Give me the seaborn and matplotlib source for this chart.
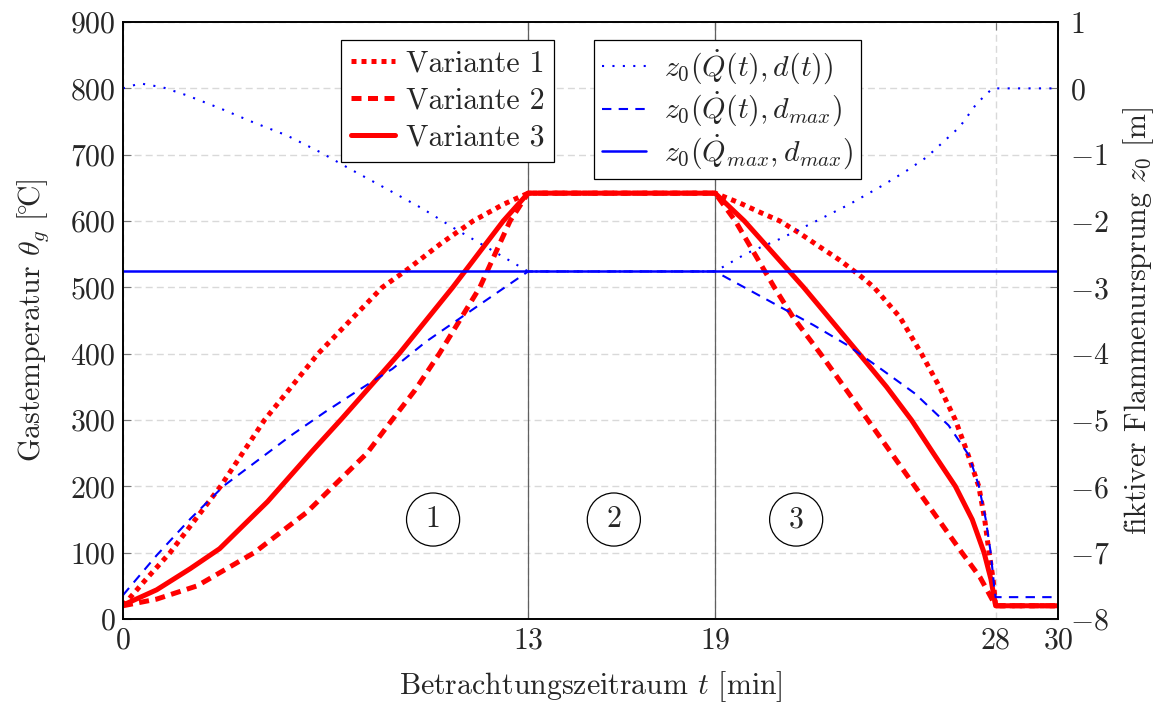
import matplotlib
matplotlib.use("Agg")
import matplotlib.pyplot as plt
import seaborn as sns

# ---------------- data ----------------
t_v1 = [0, 0.76, 1.51, 3.13, 4.54, 6.26, 8.32, 9.07, 10.2, 11.23, 12.2, 13,
        19, 19.8, 20.4, 21.08, 21.7, 22.36, 23.0, 23.64, 24.1, 24.93, 25.62, 26.2, 26.71, 27.1, 27.46,
        27.65, 27.79, 27.92, 28, 30]
v1 = [20, 61, 100, 200, 300, 400, 500, 525, 566, 600, 625, 642,
      642, 627, 614, 600, 582, 561, 541, 518, 500, 455, 400, 350, 300, 250, 200,
      150, 100, 60, 20, 20]

t_v2 = [0, 1.08, 2.38, 4.21, 5.04, 5.9, 6.96, 7.83, 8.6, 9.37, 10.15, 11.45, 12.42, 13,
        19, 19.65, 20.9, 21.5, 22.38, 23.9, 25.41, 26.92, 27.5, 28, 30]
v2 = [20, 30, 50, 100, 130, 161, 210, 250, 298, 345, 400, 500, 600, 642,
      642, 600, 500, 455, 400, 300, 200, 100, 63, 20, 20]

t_v3 = [0, 1.08, 2.16, 3.1, 4.64, 6.05, 7.02, 8.86, 10.58, 12.2, 13,
        19, 19.94, 21.84, 23.62, 24.5, 25.3, 26.0, 26.71, 27.25, 27.63, 27.85, 28, 30]
v3 = [21, 44, 76, 106, 177, 252, 302, 400, 500, 600, 642,
      642, 600, 500, 400, 350, 300, 250, 200, 150, 100, 60, 20, 20]

t_z1 = [0, 0.55, 1.28, 2.05, 3.11, 4.17, 5.26, 6.32, 7.38, 8.4, 9.6, 10.7, 11.8, 13,
        19, 20.0, 21.08, 22.16, 23.3, 24.35, 25.15, 25.78, 26.85, 27.39, 27.9, 30]
z1 = [0.0, 0.075, 0.015, -0.105, -0.30, -0.51, -0.71, -0.96, -1.24, -1.50, -1.81, -2.13, -2.43, -2.76,
      -2.76, -2.49, -2.27, -2.02, -1.75, -1.47, -1.24, -1.04, -0.58, -0.23, 0.0, 0.0]

t_z2 = [0, 1.08, 2.16, 3.24, 4.32, 5.4, 6.48, 7.56, 8.64, 9.72, 10.8, 11.88, 13,
        19, 20.21, 22.16, 23.24, 24.32, 25.41, 26.49, 27.14, 27.46, 27.68, 27.84, 27.95, 28.0, 30]
z2 = [-7.64, -7.04, -6.49, -5.99, -5.61, -5.23, -4.88, -4.55, -4.23, -3.82, -3.47, -3.12, -2.76,
      -2.76, -3.07, -3.57, -3.87, -4.23, -4.60, -5.08, -5.53, -5.99, -6.49, -6.99, -7.49, -7.67, -7.67]

t_z3 = [0, 30]
z3 = [-2.76, -2.76]

labels_red = ["Variante 1", "Variante 2", "Variante 3"]
labels_blue = [r"$z_0(\dot{Q}(t), d(t))$", r"$z_0(\dot{Q}(t), d_{max})$", r"$z_0(\dot{Q}_{max}, d_{max})$"]

x_ticks = [0, 13, 19, 28, 30]
y_ticks_left = list(range(0, 1000, 100))
y_ticks_right = list(range(-8, 2))
phase_bounds = [13, 19]
phase_names = ["1", "2", "3"]
phase_t = [9.95, 15.75, 21.6]
phase_y = [150, 150, 150]

# ---------------- style ----------------
sns.set_style("white")
FS = 21.5
plt.rcParams.update({
    "font.family": "serif",
    "font.serif": ["cmr10"],
    "mathtext.fontset": "cm",
    "axes.formatter.use_mathtext": True,
    "font.size": FS,
    "axes.unicode_minus": True,
})

fig = plt.figure(figsize=(11.69, 7.04), dpi=100)
ax = fig.add_axes([0.1052, 0.1207, 0.7998, 0.848])

RED = "#ff0000"
BLUE = "#0000ff"
lw_r = 3.6
lw_b = 1.5

sns.lineplot(x=t_v1, y=v1, ax=ax, color=RED, lw=lw_r, linestyle=(0, (1, 1)), estimator=None, sort=False, legend=False)
sns.lineplot(x=t_v2, y=v2, ax=ax, color=RED, lw=lw_r, linestyle=(0, (2, 1.3)), estimator=None, sort=False, legend=False)
sns.lineplot(x=t_v3, y=v3, ax=ax, color=RED, lw=lw_r, linestyle="-", estimator=None, sort=False, legend=False)
red_lines = ax.get_lines()[-3:]
for ln in red_lines:
    ln.set_solid_joinstyle("round")

for b in phase_bounds:
    ax.axvline(b, color="#606060", lw=0.9, zorder=1.5)

ax.set_xlim(0, 30)
ax.set_ylim(0, 900)
ax.set_xticks(x_ticks)
ax.set_yticks(y_ticks_left)
ax.grid(True, color="#d9d9d9", linestyle=(0, (5, 3)), lw=1.0)
ax.set_axisbelow(True)
ax.tick_params(axis="both", direction="in", length=6, color="#777777", labelsize=FS)
ax.tick_params(axis="y", pad=5)
ax.tick_params(axis="x", top=True, pad=6)
ax.set_xlabel(r"Betrachtungszeitraum $t$ [min]", fontsize=FS, labelpad=10)
ax.set_ylabel(r"Gastemperatur $\theta_g$ [$\!{}^{\circ}\!$C]", fontsize=FS, labelpad=14)

for i, name in enumerate(phase_names):
    ax.text(phase_t[i], phase_y[i], name, ha="center", va="center", fontsize=FS,
            bbox=dict(boxstyle="circle,pad=0.43", fc="white", ec="black", lw=0.9))

ax2 = ax.twinx()
sns.lineplot(x=t_z1, y=z1, ax=ax2, color=BLUE, lw=lw_b, linestyle=(0, (1, 4)), estimator=None, sort=False, legend=False)
sns.lineplot(x=t_z2, y=z2, ax=ax2, color=BLUE, lw=lw_b, linestyle=(0, (4.5, 3.5)), estimator=None, sort=False, legend=False)
sns.lineplot(x=t_z3, y=z3, ax=ax2, color=BLUE, lw=lw_b + 0.3, linestyle="-", estimator=None, sort=False, legend=False)
blue_lines = ax2.get_lines()[-3:]
ax2.set_ylim(-8, 1)
ax2.set_yticks(y_ticks_right)
ax2.tick_params(axis="y", direction="in", length=6, color="#777777", labelsize=FS, pad=9)
ax2.set_ylabel(r"fiktiver Flammenursprung $z_0$ [m]", fontsize=FS, labelpad=8)

for a in (ax, ax2):
    for s in a.spines.values():
        s.set_color("black")
        s.set_linewidth(1.2)

leg1 = ax2.legend(red_lines, labels_red, loc="upper left", bbox_to_anchor=(0.233, 0.970),
                  frameon=True, fancybox=False, framealpha=1, edgecolor="black", fontsize=FS,
                  handlelength=1.5, handletextpad=0.35, borderpad=0.33, labelspacing=0.33, borderaxespad=0)
leg1.get_frame().set_linewidth(0.9)
ax2.add_artist(leg1)
leg2 = ax2.legend(blue_lines, labels_blue, loc="upper left", bbox_to_anchor=(0.504, 0.970),
                  frameon=True, fancybox=False, framealpha=1, edgecolor="black", fontsize=FS,
                  handlelength=1.5, handletextpad=0.6, borderpad=0.25, labelspacing=0.12, borderaxespad=0)
leg2.get_frame().set_linewidth(0.9)

fig.savefig("out.png", dpi=100)
